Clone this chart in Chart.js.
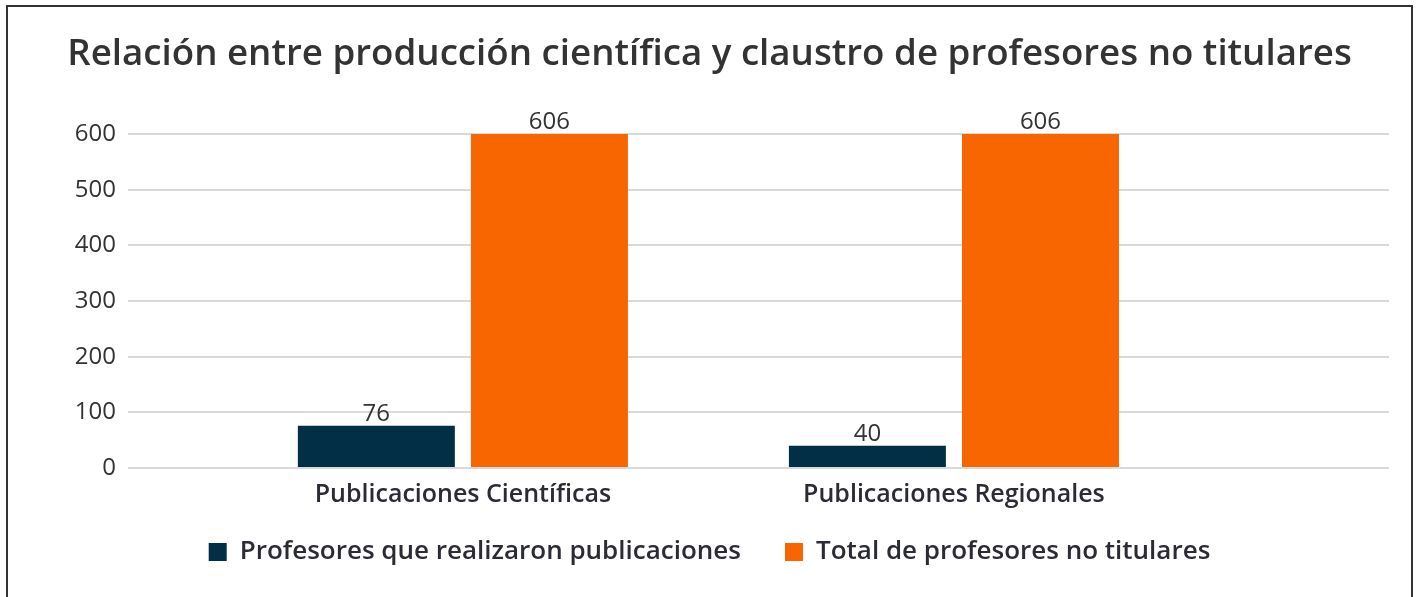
<!DOCTYPE html>
<html>
<head>
<meta charset="utf-8">
<script src="https://cdn.jsdelivr.net/npm/chart.js@4.4.1/dist/chart.umd.min.js"></script>
<style>
  html, body { margin: 0; padding: 0; background: #fff; }
  #wrap { position: relative; width: 1419px; height: 597px; }
  #frame { position: absolute; left: 6px; top: 5px; width: 1403px; height: 600px; border: 2px solid #333; pointer-events: none; }
</style>
</head>
<body>
<div id="wrap">
  <canvas id="chart" width="1419" height="597"></canvas>
  <div id="frame"></div>
</div>
<script>
const categories = ["Publicaciones Científicas", "Publicaciones Regionales"];
const seriesNames = ["Profesores que realizaron publicaciones", "Total de profesores no titulares"];
const profesoresPublicaron = [76, 40];
const totalNoTitulares = [606, 606];
const yTicks = [0, 100, 200, 300, 400, 500, 600];

const FONT = "'Open Sans', sans-serif";
const toPoints = arr => arr.map((v, i) => ({ x: i, y: v }));

// value above each bar (the 606 bars are clipped at the 600 line, like the original)
const valueLabels = {
    id: 'valueLabels',
    afterDatasetsDraw(chart) {
        const ctx = chart.ctx;
        ctx.save();
        ctx.font = `24px ${FONT}`;
        ctx.fillStyle = '#333';
        ctx.textAlign = 'center';
        ctx.textBaseline = 'alphabetic';
        chart.data.datasets.forEach((ds, di) => {
            chart.getDatasetMeta(di).data.forEach((bar, i) => {
                const top = Math.max(bar.y, chart.chartArea.top);
                ctx.fillText(ds.data[i].y, bar.x, top - 5);
            });
        });
        ctx.restore();
    }
};

new Chart(document.getElementById('chart'), {
    type: 'bar',
    data: {
        datasets: [
            { label: seriesNames[0], data: toPoints(profesoresPublicaron), backgroundColor: '#022f45' },
            { label: seriesNames[1], data: toPoints(totalNoTitulares), backgroundColor: '#f76600' }
        ]
    },
    options: {
        responsive: false,
        animation: false,
        events: [],
        layout: { padding: { left: 30, right: 30, top: 0, bottom: 22 } },
        categoryPercentage: 0.705,
        barPercentage: 0.907,
        plugins: {
            title: {
                display: true,
                text: 'Relación entre producción científica y claustro de profesores no titulares',
                color: '#333',
                font: { family: FONT, size: 36.7, weight: 600 },
                padding: { top: 33, bottom: 57 }
            },
            legend: {
                position: 'bottom',
                labels: {
                    boxWidth: 18,
                    boxHeight: 18,
                    padding: 17,
                    color: '#2b2b36',
                    font: { family: FONT, size: 26, weight: 600 },
                    generateLabels: chart => chart.data.datasets.map((ds, i) => ({
                        text: i === 0 ? ds.label + '\u00a0\u00a0\u00a0\u00a0' : ds.label,
                        fillStyle: ds.backgroundColor,
                        strokeStyle: ds.backgroundColor,
                        lineWidth: 0,
                        fontColor: '#2b2b36',
                        datasetIndex: i
                    }))
                }
            },
            tooltip: { enabled: false }
        },
        scales: {
            x: {
                type: 'linear',
                min: -0.682,
                max: 1.886,
                offset: false,
                grid: { display: false, drawTicks: false },
                border: { display: false },
                afterBuildTicks: s => { s.ticks = categories.map((c, i) => ({ value: i })); },
                ticks: {
                    padding: 12,
                    color: '#2b2b36',
                    font: { family: FONT, size: 25, weight: 600 },
                    callback: v => categories[v]
                }
            },
            y: {
                min: 0,
                max: 600,
                afterBuildTicks: s => { s.ticks = yTicks.map(v => ({ value: v })); },
                afterFit: s => { s.width = 98; },
                grid: { color: '#d9d9d9', lineWidth: 2, drawTicks: false },
                border: { display: false },
                ticks: {
                    padding: 12,
                    color: '#333',
                    font: { family: FONT, size: 24 }
                }
            }
        }
    },
    plugins: [valueLabels]
});
</script>
</body>
</html>
